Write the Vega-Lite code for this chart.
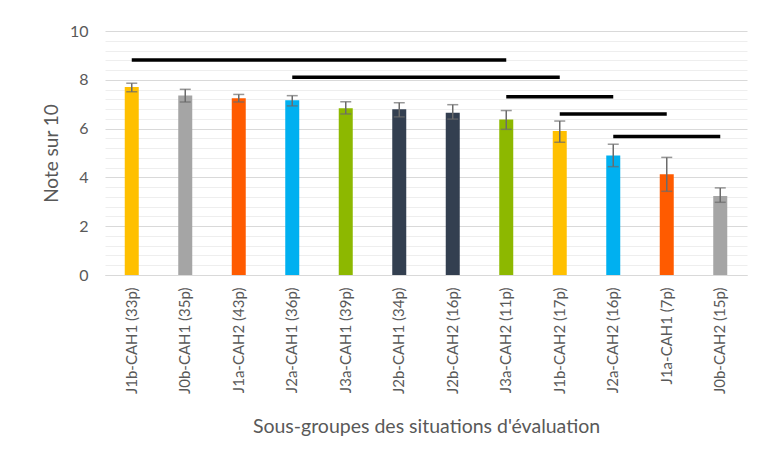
{
  "$schema": "https://vega.github.io/schema/vega-lite/v6.json",
  "width": 642,
  "height": 244,
  "autosize": {"type": "none"},
  "padding": {"left": 105, "top": 31, "right": 12, "bottom": 189},
  "background": "white",
  "config": {
    "view": {"stroke": null},
    "font": "Lato",
    "axis": {"labelColor": "#595959", "titleColor": "#595959", "titleFontWeight": "normal", "labelFont": "Lato", "titleFont": "Lato"}
  },
  "datasets": {
    "bars": [
      {"cat": "J1b-CAH1 (33p)", "sit": "J1b", "mean": 7.70, "lo": 7.51, "hi": 7.86},
      {"cat": "J0b-CAH1 (35p)", "sit": "J0b", "mean": 7.36, "lo": 7.09, "hi": 7.61},
      {"cat": "J1a-CAH2 (43p)", "sit": "J1a", "mean": 7.24, "lo": 7.09, "hi": 7.40},
      {"cat": "J2a-CAH1 (36p)", "sit": "J2a", "mean": 7.16, "lo": 6.93, "hi": 7.35},
      {"cat": "J3a-CAH1 (39p)", "sit": "J3a", "mean": 6.83, "lo": 6.60, "hi": 7.10},
      {"cat": "J2b-CAH1 (34p)", "sit": "J2b", "mean": 6.79, "lo": 6.48, "hi": 7.06},
      {"cat": "J2b-CAH2 (16p)", "sit": "J2b", "mean": 6.65, "lo": 6.39, "hi": 6.98},
      {"cat": "J3a-CAH2 (11p)", "sit": "J3a", "mean": 6.37, "lo": 5.97, "hi": 6.74},
      {"cat": "J1b-CAH2 (17p)", "sit": "J1b", "mean": 5.90, "lo": 5.44, "hi": 6.31},
      {"cat": "J2a-CAH2 (16p)", "sit": "J2a", "mean": 4.90, "lo": 4.44, "hi": 5.36},
      {"cat": "J1a-CAH1 (7p)", "sit": "J1a", "mean": 4.13, "lo": 3.43, "hi": 4.82},
      {"cat": "J0b-CAH2 (15p)", "sit": "J0b", "mean": 3.24, "lo": 2.98, "hi": 3.57}
    ],
    "lines": [
      {"from": "J1b-CAH1 (33p)", "to": "J3a-CAH2 (11p)", "y": 8.81},
      {"from": "J2a-CAH1 (36p)", "to": "J1b-CAH2 (17p)", "y": 8.10},
      {"from": "J3a-CAH2 (11p)", "to": "J2a-CAH2 (16p)", "y": 7.31},
      {"from": "J1b-CAH2 (17p)", "to": "J1a-CAH1 (7p)", "y": 6.60},
      {"from": "J2a-CAH2 (16p)", "to": "J0b-CAH2 (15p)", "y": 5.68}
    ]
  },
  "layer": [
    {
      "data": {"name": "bars"},
      "mark": {"type": "bar", "size": 14},
      "encoding": {
        "x": {
          "field": "cat", "type": "nominal", "sort": null,
          "scale": {"paddingInner": 0, "paddingOuter": 0},
          "axis": {
            "title": "Sous-groupes des situations d'évaluation",
            "titleFontSize": 19.5, "titlePadding": 24,
            "labelAngle": 270, "labelFontSize": 15, "labelPadding": 12,
            "ticks": false, "domainColor": "#d9d9d9", "domainWidth": 1
          }
        },
        "y": {
          "field": "mean", "type": "quantitative",
          "scale": {"domain": [0, 10], "nice": false},
          "axis": {
            "title": "Note sur 10", "titleFontSize": 19, "titlePadding": 8,
            "labelFontSize": 16, "labelPadding": 17, "ticks": false, "domain": false,
            "labelOverlap": false, "tickCount": 40, "format": "~g",
            "values": [0, 0.4, 0.8, 1.2, 1.6, 2, 2.4, 2.8, 3.2, 3.6, 4, 4.4, 4.8, 5.2, 5.6, 6, 6.4, 6.8, 7.2, 7.6, 8, 8.4, 8.8, 9.2, 9.6, 10],
            "labelExpr": "datum.value % 2 === 0 ? datum.label : ''",
            "gridColor": {"condition": {"test": "datum.value % 2 === 0", "value": "#d9d9d9"}, "value": "#eeeeee"},
            "gridWidth": 1
          }
        },
        "color": {
          "field": "sit", "type": "nominal", "legend": null,
          "scale": {
            "domain": ["J1b", "J0b", "J1a", "J2a", "J3a", "J2b"],
            "range": ["#FFC000", "#A5A5A5", "#FF5B00", "#00B0F0", "#8DB800", "#333F50"]
          }
        }
      }
    },
    {
      "data": {"name": "bars"},
      "mark": {"type": "rule", "color": "#6b6b6b", "strokeWidth": 1.5},
      "encoding": {
        "x": {"field": "cat", "type": "nominal", "sort": null},
        "y": {"field": "lo", "type": "quantitative"},
        "y2": {"field": "hi"}
      }
    },
    {
      "data": {"name": "bars"},
      "mark": {"type": "tick", "color": "#6b6b6b", "size": 11, "thickness": 1.5},
      "encoding": {
        "x": {"field": "cat", "type": "nominal", "sort": null},
        "y": {"field": "lo", "type": "quantitative"}
      }
    },
    {
      "data": {"name": "bars"},
      "mark": {"type": "tick", "color": "#6b6b6b", "size": 11, "thickness": 1.5},
      "encoding": {
        "x": {"field": "cat", "type": "nominal", "sort": null},
        "y": {"field": "hi", "type": "quantitative"}
      }
    },
    {
      "data": {"name": "lines"},
      "mark": {"type": "rule", "color": "#000000", "strokeWidth": 3.5},
      "encoding": {
        "x": {"field": "from", "type": "nominal", "sort": null},
        "x2": {"field": "to"},
        "y": {"field": "y", "type": "quantitative"}
      }
    }
  ]
}
